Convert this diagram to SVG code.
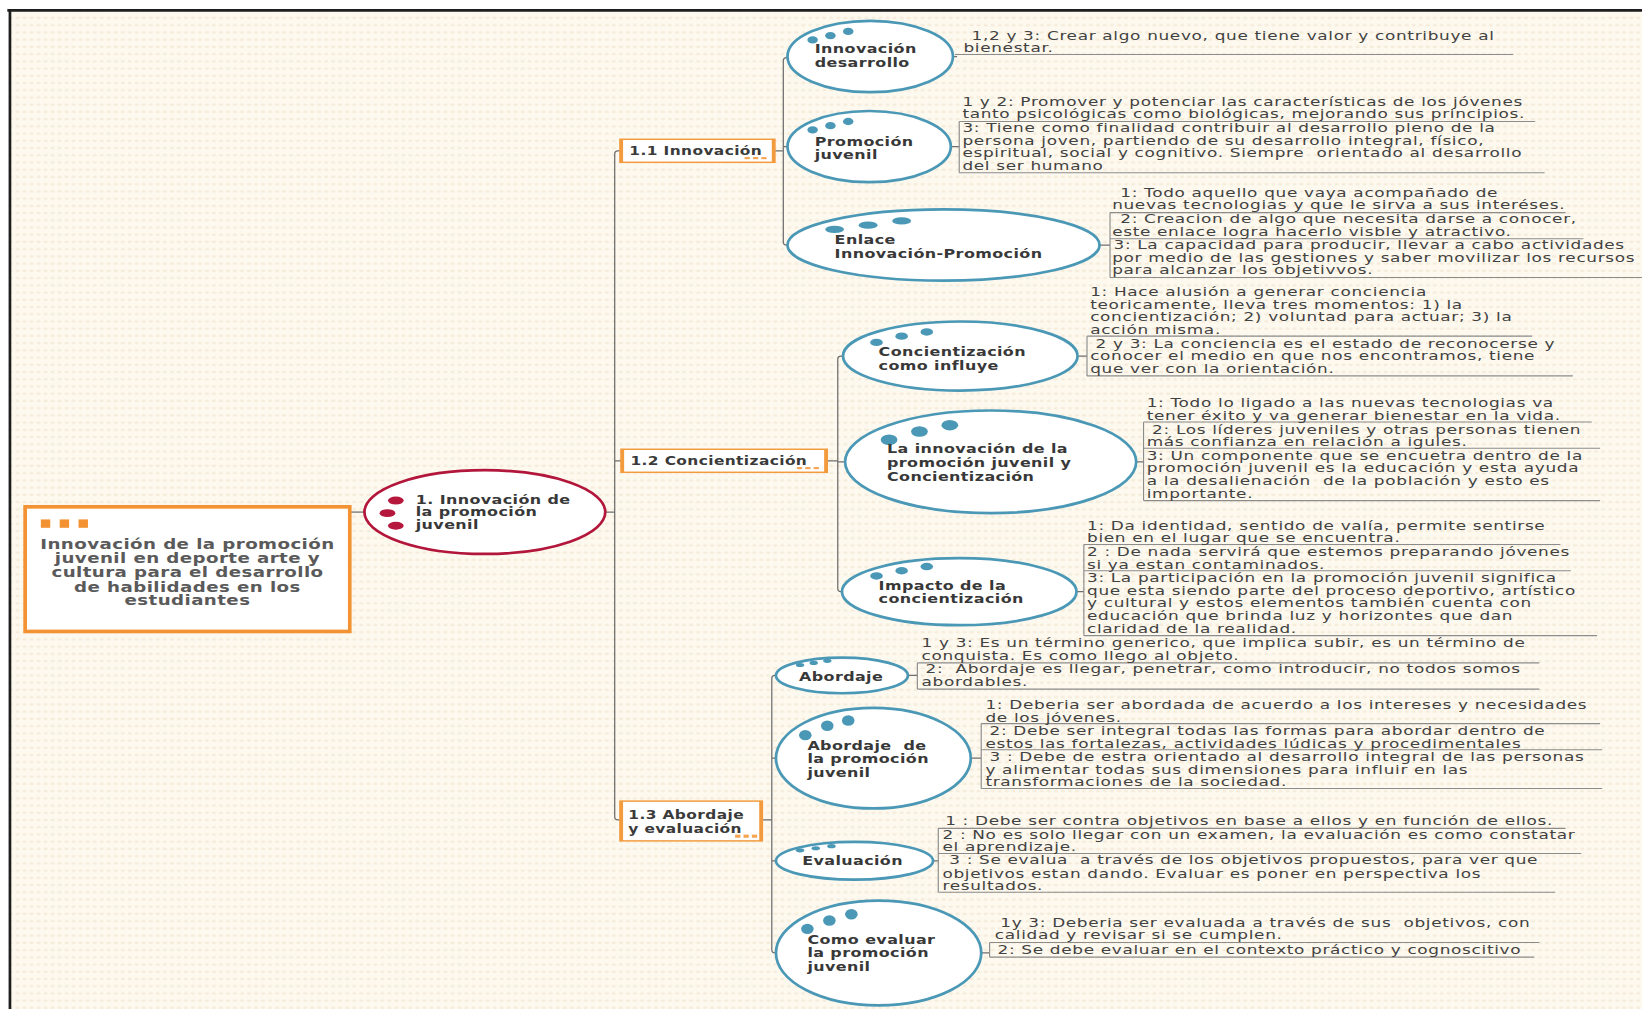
<svg xmlns="http://www.w3.org/2000/svg" width="1642" height="1009" viewBox="0 0 1642 1009">
<defs>
<pattern id="bg" width="6.7" height="6.9" patternUnits="userSpaceOnUse">
<rect width="6.7" height="6.9" fill="#fdf9ef"/>
<ellipse cx="3.3" cy="3.4" rx="2.1" ry="1.2" fill="#f6ecdb"/>
</pattern>
<style>
.note{font-family:"DejaVu Sans",sans-serif;font-size:12.5px;fill:#424242;letter-spacing:.5px;white-space:pre}
.lbl{font-family:"DejaVu Sans",sans-serif;font-weight:bold;font-size:11.8px;fill:#383838;letter-spacing:.3px;white-space:pre}
.blbl{font-family:"DejaVu Sans",sans-serif;font-weight:bold;font-size:11.4px;fill:#3a3a3a;letter-spacing:.3px}
.root{font-family:"DejaVu Sans",sans-serif;font-weight:bold;font-size:13.4px;fill:#5a5a5a;letter-spacing:.3px;text-anchor:middle}
.rule{stroke:#8c8c8c;stroke-width:1.1;fill:none}
.conn{stroke:#6e6e6e;stroke-width:1.2;fill:none}
.bn{fill:#fff;stroke:#4a98b6;stroke-width:2.6}
.dot{fill:#4a98b6}
.bx{fill:#fff;stroke:#f39a3c;stroke-width:1.4}
.bxs{stroke:#f39a3c;stroke-width:3}
.dash{fill:#f7a452}
</style>
</defs>
<rect width="1642" height="1009" fill="#fff"/>
<g transform="scale(1.0472)">
<rect x="9" y="10" width="1560" height="955" fill="url(#bg)"/>
<path d="M7,10 H1568 M9.5,10 V964" stroke="#1e1e1e" stroke-width="2.6" fill="none"/>

<g id="connectors" class="conn">
<path d="M334,489 H348"/>
<path d="M578,489 H587 M592,144 H590 Q587,144 587,147 V780 Q587,783 590,783 H592 M587,440 H593"/>
<path d="M740,144 H748 M752,55 H751 Q748,55 748,58 V231 Q748,234 751,234 H752 M748,140 H752"/>
<path d="M790,440 H800 M805,340 H803 Q800,340 800,343 V562 Q800,565 803,565 H805 M800,441 H807"/>
<path d="M728,783 H737 M741,645 H740 Q737,645 737,648 V907 Q737,910 740,910 H741 M737,724 H741 M737,822 H741"/>
<path d="M910,54 H914 M908,140 H916 M1050,234 H1060 M1030,340 H1038 M1085,441 H1092 M1028,565 H1035 M867,645 H876 M927,724 H937 M891,822 H896 M937,910 H945"/>
</g>

<g id="root">
<rect x="24" y="484" width="310" height="119" fill="#fff" stroke="#f39233" stroke-width="3.5"/>
<rect x="39" y="496" width="9" height="8" fill="#f39233"/>
<rect x="57" y="496" width="9" height="8" fill="#f39233"/>
<rect x="75" y="496" width="9" height="8" fill="#f39233"/>
<g transform="translate(179,0) scale(1.3,1)">
<text class="root" y="524">Innovación de la promoción</text>
<text class="root" y="538">juvenil en deporte arte y</text>
<text class="root" y="551">cultura para el desarrollo</text>
<text class="root" y="565">de habilidades en los</text>
<text class="root" y="578">estudiantes</text>
</g>
</g>

<g id="n1">
<ellipse cx="463" cy="489" rx="115" ry="40" fill="#fff" stroke="#b3163b" stroke-width="2.6"/>
<ellipse cx="378" cy="478" rx="7.5" ry="3.8" fill="#b5173d"/>
<ellipse cx="370" cy="490" rx="7.5" ry="3.8" fill="#b5173d"/>
<ellipse cx="378" cy="502" rx="7.5" ry="3.8" fill="#b5173d"/>
<g transform="translate(397,0) scale(1.29,1)">
<text class="lbl" y="481">1. Innovación de</text>
<text class="lbl" y="493">la promoción</text>
<text class="lbl" y="505">juvenil</text>
</g>
</g>

<g id="b11">
<rect class="bx" x="592" y="133" width="148" height="22"/>
<path class="bxs" d="M593.5,133 V155 M738.5,133 V155"/>
<rect class="dash" x="711" y="150" width="5" height="2"/><rect class="dash" x="719" y="150" width="5" height="2"/><rect class="dash" x="727" y="150" width="5" height="2"/>
<g transform="translate(601,0) scale(1.29,1)"><text class="blbl" y="148">1.1 Innovación</text></g>
</g>

<g id="b12">
<rect class="bx" x="593" y="429" width="197" height="22"/>
<path class="bxs" d="M594.5,429 V451 M788.5,429 V451"/>
<rect class="dash" x="761" y="446" width="5" height="2"/><rect class="dash" x="769" y="446" width="5" height="2"/><rect class="dash" x="777" y="446" width="5" height="2"/>
<g transform="translate(602,0) scale(1.29,1)"><text class="blbl" y="444">1.2 Concientización</text></g>
</g>

<g id="b13">
<rect class="bx" x="592" y="765" width="136" height="38"/>
<path class="bxs" d="M593.5,765 V803 M726.5,765 V803"/>
<rect class="dash" x="702" y="797" width="5" height="3"/><rect class="dash" x="710" y="797" width="5" height="3"/><rect class="dash" x="718" y="797" width="5" height="3"/>
<g transform="translate(600,0) scale(1.29,1)"><text class="blbl" y="782">1.3 Abordaje</text><text class="blbl" y="795">y evaluación</text></g>
</g>

<g id="innovacion-desarrollo">
<ellipse class="bn" cx="831" cy="54" rx="79" ry="34"/>
<ellipse class="dot" cx="776" cy="38" rx="5" ry="3.5"/><ellipse class="dot" cx="793" cy="34" rx="5" ry="3.5"/><ellipse class="dot" cx="810" cy="30" rx="5" ry="3.5"/>
<g transform="translate(778,0) scale(1.29,1)"><text class="lbl" y="51">Innovación</text><text class="lbl" y="64">desarrollo</text></g>
</g>

<g id="promocion-juvenil">
<ellipse class="bn" cx="830" cy="140" rx="78" ry="34"/>
<ellipse class="dot" cx="776" cy="124" rx="5" ry="3.5"/><ellipse class="dot" cx="793" cy="120" rx="5" ry="3.5"/><ellipse class="dot" cx="810" cy="116" rx="5" ry="3.5"/>
<g transform="translate(778,0) scale(1.29,1)"><text class="lbl" y="139">Promoción</text><text class="lbl" y="152">juvenil</text></g>
</g>

<g id="enlace">
<ellipse class="bn" cx="901" cy="234" rx="149" ry="34"/>
<ellipse class="dot" cx="797" cy="219" rx="9" ry="3.5"/><ellipse class="dot" cx="829" cy="215" rx="9" ry="3.5"/><ellipse class="dot" cx="861" cy="211" rx="9" ry="3.5"/>
<g transform="translate(797,0) scale(1.29,1)"><text class="lbl" y="233">Enlace</text><text class="lbl" y="246">Innovación-Promoción</text></g>
</g>

<g id="concientizacion-influye">
<ellipse class="bn" cx="917" cy="340" rx="112" ry="33"/>
<ellipse class="dot" cx="837" cy="327" rx="6" ry="3.5"/><ellipse class="dot" cx="861" cy="321" rx="6" ry="3.5"/><ellipse class="dot" cx="885" cy="317" rx="6" ry="3.5"/>
<g transform="translate(839,0) scale(1.29,1)"><text class="lbl" y="340">Concientización</text><text class="lbl" y="353">como influye</text></g>
</g>

<g id="innovacion-concientizacion">
<ellipse class="bn" cx="946" cy="441" rx="139" ry="49"/>
<ellipse class="dot" cx="849" cy="420" rx="8" ry="5"/><ellipse class="dot" cx="878" cy="412" rx="8" ry="5"/><ellipse class="dot" cx="907" cy="406" rx="8" ry="5"/>
<g transform="translate(847,0) scale(1.29,1)"><text class="lbl" y="433">La innovación de la</text><text class="lbl" y="446">promoción juvenil y</text><text class="lbl" y="459">Concientización</text></g>
</g>

<g id="impacto">
<ellipse class="bn" cx="916" cy="565" rx="112" ry="32"/>
<ellipse class="dot" cx="837" cy="550" rx="6" ry="3.5"/><ellipse class="dot" cx="861" cy="545" rx="6" ry="3.5"/><ellipse class="dot" cx="885" cy="541" rx="6" ry="3.5"/>
<g transform="translate(839,0) scale(1.29,1)"><text class="lbl" y="563">Impacto de la</text><text class="lbl" y="576">concientización</text></g>
</g>

<g id="abordaje">
<ellipse class="bn" cx="804" cy="645" rx="63" ry="17" stroke-width="2"/>
<ellipse class="dot" cx="764" cy="635" rx="4" ry="2"/><ellipse class="dot" cx="777" cy="633" rx="4" ry="2"/><ellipse class="dot" cx="790" cy="631" rx="4" ry="2"/>
<g transform="translate(763,0) scale(1.29,1)"><text class="lbl" y="650">Abordaje</text></g>
</g>

<g id="abordaje-promocion">
<ellipse class="bn" cx="834" cy="724" rx="93" ry="48"/>
<ellipse class="dot" cx="769" cy="702" rx="6" ry="5"/><ellipse class="dot" cx="790" cy="693" rx="6" ry="5"/><ellipse class="dot" cx="810" cy="688" rx="6" ry="5"/>
<g transform="translate(771,0) scale(1.29,1)"><text class="lbl" y="716">Abordaje  de</text><text class="lbl" y="729">la promoción</text><text class="lbl" y="742">juvenil</text></g>
</g>

<g id="evaluacion">
<ellipse class="bn" cx="816" cy="822" rx="75" ry="18" stroke-width="2"/>
<ellipse class="dot" cx="764" cy="812" rx="4" ry="2"/><ellipse class="dot" cx="779" cy="810" rx="4" ry="2"/><ellipse class="dot" cx="794" cy="808" rx="4" ry="2"/>
<g transform="translate(766,0) scale(1.29,1)"><text class="lbl" y="826">Evaluación</text></g>
</g>

<g id="como-evaluar">
<ellipse class="bn" cx="839" cy="910" rx="98" ry="50"/>
<ellipse class="dot" cx="771" cy="887" rx="6" ry="5"/><ellipse class="dot" cx="792" cy="879" rx="6" ry="5"/><ellipse class="dot" cx="813" cy="873" rx="6" ry="5"/>
<g transform="translate(771,0) scale(1.29,1)"><text class="lbl" y="901">Como evaluar</text><text class="lbl" y="914">la promoción</text><text class="lbl" y="927">juvenil</text></g>
</g>

<g id="note-a">
<path class="rule" d="M912,52 H1445"/>
<g transform="translate(920,0) scale(1.29,1)">
<text class="note" x="6" y="38">1,2 y 3: Crear algo nuevo, que tiene valor y contribuye al</text>
<text class="note" y="50">bienestar.</text>
</g>
</g>

<g id="note-b">
<path class="rule" d="M916,116 H1466 M916,165 H1475 M916,116 V165"/>
<g transform="translate(919,0) scale(1.29,1)">
<text class="note" y="101">1 y 2: Promover y potenciar las características de los jóvenes</text>
<text class="note" y="113">tanto psicológicas como biológicas, mejorando sus principios.</text>
<text class="note" y="126">3: Tiene como finalidad contribuir al desarrollo pleno de la</text>
<text class="note" y="138">persona joven, partiendo de su desarrollo integral, físico,</text>
<text class="note" y="150">espiritual, social y cognitivo. Siempre  orientado al desarrollo</text>
<text class="note" y="162">del ser humano</text>
</g>
</g>

<g id="note-c">
<path class="rule" d="M1060,203 H1495 M1060,228 H1512 M1060,265 H1568 M1060,203 V265"/>
<g transform="translate(1062,0) scale(1.29,1)">
<text class="note" x="6" y="188">1: Todo aquello que vaya acompañado de</text>
<text class="note" y="200">nuevas tecnologias y que le sirva a sus interéses.</text>
<text class="note" x="6" y="213">2: Creacion de algo que necesita darse a conocer,</text>
<text class="note" y="225">este enlace logra hacerlo visble y atractivo.</text>
<text class="note" x="1" y="238">3: La capacidad para producir, llevar a cabo actividades</text>
<text class="note" y="250">por medio de las gestiones y saber movilizar los recursos</text>
<text class="note" y="262">para alcanzar los objetivvos.</text>
</g>
</g>

<g id="note-d">
<path class="rule" d="M1038,321 H1463 M1038,359 H1502 M1038,321 V359"/>
<g transform="translate(1041,0) scale(1.29,1)">
<text class="note" y="283">1: Hace alusión a generar conciencia</text>
<text class="note" y="295">teoricamente, lleva tres momentos: 1) la</text>
<text class="note" y="307">concientización; 2) voluntad para actuar; 3) la</text>
<text class="note" y="319">acción misma.</text>
<text class="note" x="4" y="332">2 y 3: La conciencia es el estado de reconocerse y</text>
<text class="note" y="344">conocer el medio en que nos encontramos, tiene</text>
<text class="note" y="356">que ver con la orientación.</text>
</g>
</g>

<g id="note-e">
<path class="rule" d="M1092,403 H1520 M1092,428 H1528 M1092,478 H1528 M1092,403 V478"/>
<g transform="translate(1095,0) scale(1.29,1)">
<text class="note" y="389">1: Todo lo ligado a las nuevas tecnologias va</text>
<text class="note" y="401">tener éxito y va generar bienestar en la vida.</text>
<text class="note" x="4" y="414">2: Los líderes juveniles y otras personas tienen</text>
<text class="note" y="426">más confianza en relación a igules.</text>
<text class="note" y="439">3: Un componente que se encuetra dentro de la</text>
<text class="note" y="451">promoción juvenil es la educación y esta ayuda</text>
<text class="note" y="463">a la desalienación  de la población y esto es</text>
<text class="note" y="476">importante.</text>
</g>
</g>

<g id="note-f">
<path class="rule" d="M1035,520 H1490 M1035,545 H1500 M1035,607 H1525 M1035,520 V607"/>
<g transform="translate(1038,0) scale(1.29,1)">
<text class="note" y="506">1: Da identidad, sentido de valía, permite sentirse</text>
<text class="note" y="518">bien en el lugar que se encuentra.</text>
<text class="note" y="531">2 : De nada servirá que estemos preparando jóvenes</text>
<text class="note" y="543">si ya estan contaminados.</text>
<text class="note" y="556">3: La participación en la promoción juvenil significa</text>
<text class="note" y="568">que esta siendo parte del proceso deportivo, artístico</text>
<text class="note" y="580">y cultural y estos elementos también cuenta con</text>
<text class="note" y="592">educación que brinda luz y horizontes que dan</text>
<text class="note" y="604">claridad de la realidad.</text>
</g>
</g>

<g id="note-g">
<path class="rule" d="M876,633 H1470 M876,658 H1470 M876,633 V658"/>
<g transform="translate(880,0) scale(1.29,1)">
<text class="note" y="618">1 y 3: Es un término generico, que implica subir, es un término de</text>
<text class="note" y="630">conquista. Es como llego al objeto.</text>
<text class="note" x="3" y="643">2:  Abordaje es llegar, penetrar, como introducir, no todos somos</text>
<text class="note" y="655">abordables.</text>
</g>
</g>

<g id="note-h">
<path class="rule" d="M937,691 H1528 M937,716 H1530 M937,753 H1530 M937,691 V753"/>
<g transform="translate(941,0) scale(1.29,1)">
<text class="note" y="677">1: Deberia ser abordada de acuerdo a los intereses y necesidades</text>
<text class="note" y="689">de los jóvenes.</text>
<text class="note" x="3" y="702">2: Debe ser integral todas las formas para abordar dentro de</text>
<text class="note" y="714">estos las fortalezas, actividades lúdicas y procedimentales</text>
<text class="note" x="3" y="727">3 : Debe de estra orientado al desarrollo integral de las personas</text>
<text class="note" y="739">y alimentar todas sus dimensiones para influir en las</text>
<text class="note" y="751">transformaciones de la sociedad.</text>
</g>
</g>

<g id="note-i">
<path class="rule" d="M896,791 H1495 M896,815 H1510 M896,852 H1485 M896,791 V852"/>
<g transform="translate(900,0) scale(1.29,1)">
<text class="note" x="2" y="788">1 : Debe ser contra objetivos en base a ellos y en función de ellos.</text>
<text class="note" y="801">2 : No es solo llegar con un examen, la evaluación es como constatar</text>
<text class="note" y="813">el aprendizaje.</text>
<text class="note" x="5" y="825">3 : Se evalua  a través de los objetivos propuestos, para ver que</text>
<text class="note" y="838">objetivos estan dando. Evaluar es poner en perspectiva los</text>
<text class="note" y="850">resultados.</text>
</g>
</g>

<g id="note-j">
<path class="rule" d="M945,900 H1470 M945,914 H1465 M945,900 V914"/>
<g transform="translate(950,0) scale(1.29,1)">
<text class="note" x="4" y="885">1y 3: Deberia ser evaluada a través de sus  objetivos, con</text>
<text class="note" y="897">calidad y revisar si se cumplen.</text>
<text class="note" x="2" y="911">2: Se debe evaluar en el contexto práctico y cognoscitivo</text>
</g>
</g>
</g>
</svg>
